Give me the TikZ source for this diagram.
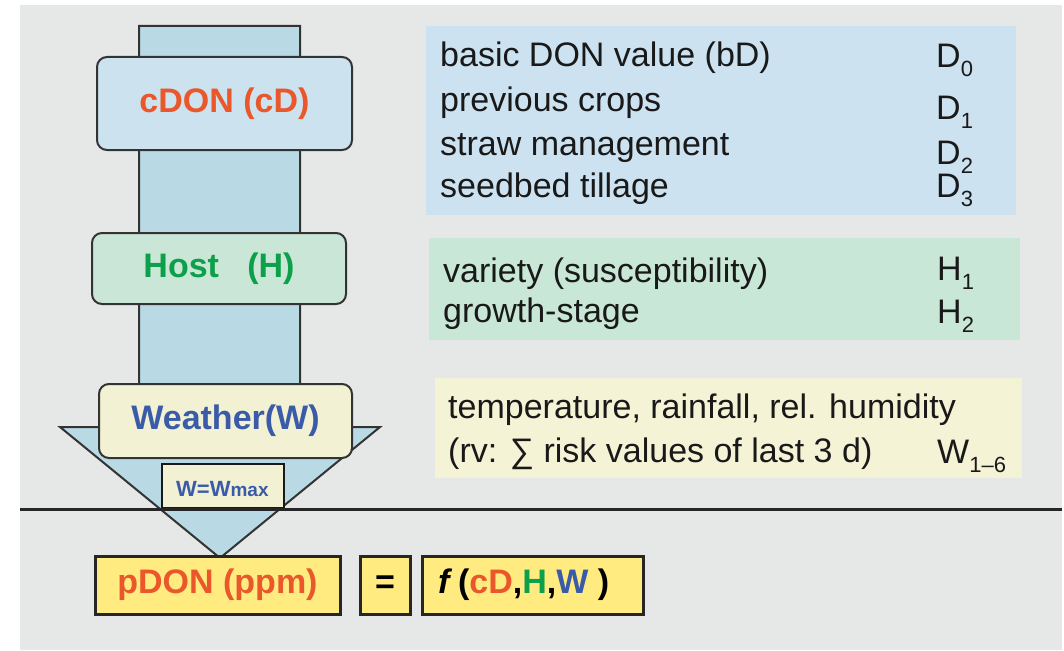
\documentclass[tikz,border=0pt]{standalone}
\usepackage{fontspec}
\setmainfont{Liberation Sans}
\definecolor{bggray}{HTML}{E6E8E7}
\definecolor{stemblue}{HTML}{B9DAE5}
\definecolor{cdonfill}{HTML}{CCE2EF}
\definecolor{hostfill}{HTML}{CAE6D6}
\definecolor{weatherfill}{HTML}{F3F1D3}
\definecolor{panelblue}{HTML}{CCE2F0}
\definecolor{panelgreen}{HTML}{C8E7D6}
\definecolor{panelyellow}{HTML}{F5F3D6}
\definecolor{boxyellow}{HTML}{FFEB80}
\definecolor{txtorange}{HTML}{E9572B}
\definecolor{txtgreen}{HTML}{0DA04B}
\definecolor{txtblue}{HTML}{3A5BA8}
\definecolor{linegray}{HTML}{333333}
\newcommand\bigfs{\fontsize{34}{40}\selectfont}
\newcommand\sbs[1]{\raisebox{-9pt}{\fontsize{22}{22}\selectfont #1}}
\begin{document}
\begin{tikzpicture}[x=1pt,y=-1pt,
  rbox/.style={draw=linegray, line width=2pt, rounded corners=10pt, inner sep=0pt, font=\bigfs\bfseries},
  ybox/.style={draw=black!85, fill=boxyellow, line width=3pt, inner sep=0pt, minimum height=58pt, font=\bigfs\bfseries},
  ptext/.style={anchor=base west, inner sep=0pt, font=\bigfs, text=black!90},
  panel/.style={inner sep=0pt, draw=none}]
\useasboundingbox (0,0) rectangle (1064,650);
\fill[bggray] (20,5) rectangle (1062,650);
% arrow
\draw[fill=stemblue, draw=linegray, line width=2pt, line join=miter]
  (139,26) -- (300,26) -- (300,427) -- (380,427) -- (220,558) -- (60,427) -- (139,427) -- cycle;
% left boxes
\node[rbox, fill=cdonfill, minimum width=255pt, minimum height=93pt, text=txtorange] (cdon) at (224.5,103.5) {cDON (cD)};
\node[rbox, fill=hostfill, minimum width=254pt, minimum height=71pt, text=txtgreen] (host) at (219,268.5) {Host\ \ \ (H)};
\node[rbox, fill=weatherfill, minimum width=253pt, minimum height=74pt, text=txtblue] (weather) at (225.5,421) {Weather(W)};
% W = Wmax
\node[draw=black!90, fill=weatherfill, line width=2.5pt, inner sep=0pt, minimum width=122pt, minimum height=44pt] (wmax) at (223,486) {};
\node[anchor=base west, inner sep=0pt, text=txtblue, font=\bfseries] (wmaxtxt) at (176,496) {\fontsize{22}{22}\selectfont W=W\fontsize{19}{19}\selectfont max};
% divider line
\draw[line width=3pt, draw=black!85] (20,509) -- (1062,509);
% bottom boxes
\node[ybox, minimum width=245pt, text=txtorange] (pdon) at (217.5,585) {pDON (ppm)};
\node[ybox, minimum width=50pt, text=black] (eq) at (385,585) {=};
\node[ybox, minimum width=221pt] (fbox) at (532.5,585) {};
\node[anchor=west, inner sep=0pt, font=\bigfs\bfseries] (ftxt) at (438,585) {\textit{f}\,(\textcolor{txtorange}{cD},\textcolor{txtgreen}{H},\textcolor{txtblue}{W}\ )};
% right panels
\fill[panelblue] (426,26) rectangle (1016,215);
\fill[panelgreen] (429,238) rectangle (1020,340);
\fill[panelyellow] (435,378) rectangle (1022,478);
\node[ptext] (t1) at (440,67) {basic DON value (bD)};
\node[ptext] (t2) at (440,112) {previous crops};
\node[ptext] (t3) at (440,155) {straw management};
\node[ptext] (t4) at (440,197) {seedbed tillage};
\node[ptext] (d0) at (936,68) {D\sbs{0}};
\node[ptext] (d1) at (936,120) {D\sbs{1}};
\node[ptext] (d2) at (936,164) {D\sbs{2}};
\node[ptext] (d3) at (936,197) {D\sbs{3}};
\node[ptext] (t5) at (443,282) {variety (susceptibility)};
\node[ptext] (t6) at (443,322) {growth-stage};
\node[ptext] (h1) at (937,280) {H\sbs{1}};
\node[ptext] (h2) at (937,323) {H\sbs{2}};
\node[ptext] (t7) at (448,418) {temperature, rainfall, rel. humidity};
\node[ptext] (t8) at (448,462) {(rv: ∑ risk values of last 3 d)};
\node[ptext] (w16) at (937,463) {W\sbs{1–6}};
\end{tikzpicture}
\end{document}
